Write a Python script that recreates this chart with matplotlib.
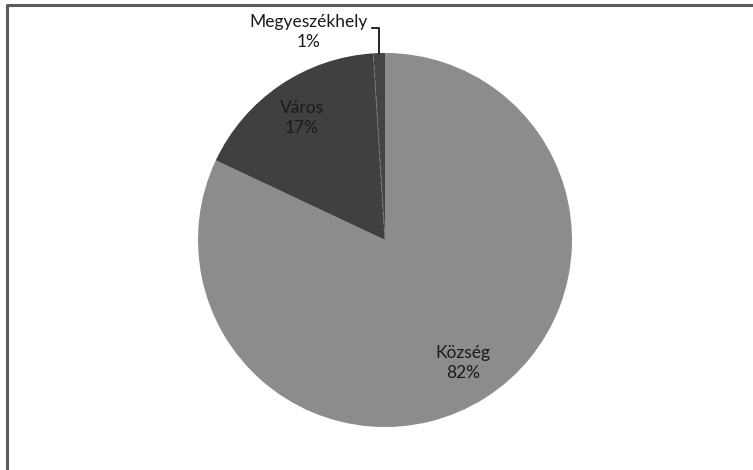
import numpy as np
import matplotlib.pyplot as plt

plt.rcParams["font.family"] = ["Lato", "DejaVu Sans"]

categories = ["Község", "Város", "Megyeszékhely"]
values = [82, 17, 1]
colors = ["#8c8c8c", "#404040", "#444444"]

W, H = 753, 470
fig = plt.figure(figsize=(W / 100, H / 100), dpi=100)
ax = fig.add_axes([0, 0, 1, 1])

cx, cy, r = 385, H - 240, 187
wedges, _ = ax.pie(values, colors=colors, startangle=90, counterclock=False,
                   center=(cx, cy), radius=r, frame=True,
                   wedgeprops=dict(linewidth=0))
ax.set_xlim(0, W)
ax.set_ylim(0, H)
ax.axis("off")

# faint dashed boundary between Város and Megyeszékhely
frac = (values[0] + values[1]) / sum(values)
ang = np.deg2rad(90 - 360 * frac)
ax.plot([cx, cx + r * np.cos(ang)], [cy, cy + r * np.sin(ang)],
        color="#7a7a7a", lw=0.8, ls=(0, (4, 3)), zorder=3)

# frame (right and bottom edges fall outside the image)
ax.plot([7, 7, W + 10], [-10, H - 5, H - 5], color="#5a5a5a", lw=2.2,
        clip_on=False, zorder=4)

fs = 12.5
ax.text(463, H - 363, f"{categories[0]}\n{values[0]}%", ha="center", va="center",
        fontsize=fs, color="#1a1a1a", linespacing=1.25)
ax.text(302, H - 118, f"{categories[1]}\n{values[1]}%", ha="center", va="center",
        fontsize=fs, color="#1a1a1a", linespacing=1.25)
ax.text(309, H - 32, f"{categories[2]}\n{values[2]}%", ha="center", va="center",
        fontsize=fs, color="#1a1a1a", linespacing=1.25)

# leader line for Megyeszékhely
ax.plot([372, 379, 379], [H - 28, H - 28, H - 53], color="black", lw=1.2, zorder=4)

fig.savefig("out.png", dpi=100)
